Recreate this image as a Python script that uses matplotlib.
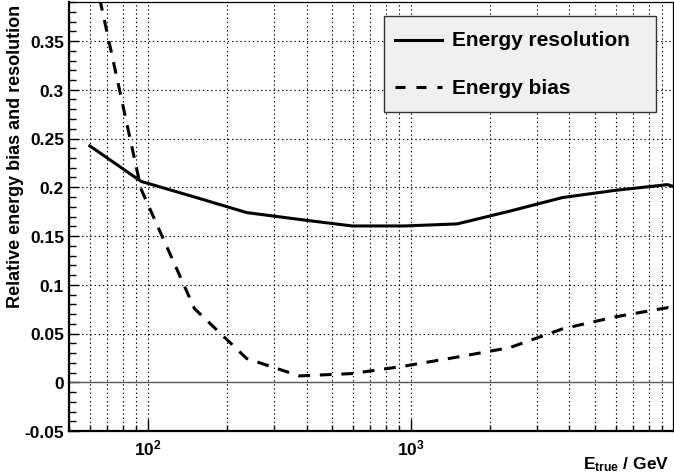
import math
import matplotlib
matplotlib.use("Agg")
import matplotlib.pyplot as plt
from matplotlib.lines import Line2D
from matplotlib.patches import Rectangle
from matplotlib.ticker import LogLocator, MultipleLocator, FuncFormatter, NullFormatter

plt.rcParams["font.family"] = ["Liberation Sans", "DejaVu Sans"]
plt.rcParams["font.weight"] = "bold"
plt.rcParams["mathtext.fontset"] = "custom"
plt.rcParams["mathtext.rm"] = "Liberation Sans:bold"
plt.rcParams["mathtext.bf"] = "Liberation Sans:bold"
plt.rcParams["mathtext.it"] = "Liberation Sans:bold"
plt.rcParams["lines.scale_dashes"] = False

# energy bin centres (GeV) and curves
energy = [60, 94, 150, 237, 376, 596, 944, 1496, 2371, 3758, 5957, 9441, 14962]
resolution = [0.2424, 0.206, 0.190, 0.174, 0.167, 0.1603, 0.1603, 0.1624,
              0.1755, 0.1894, 0.1968, 0.2027, 0.185]
bias = [0.44, 0.198, 0.0755, 0.0243, 0.0065, 0.0089, 0.0166, 0.0258,
        0.0355, 0.0547, 0.067, 0.0765, 0.060]

legend_labels = ["Energy resolution", "Energy bias"]

W, H = 674, 477
dash = (0, (8.5, 7.0))
legend_dash = (0, (7.2, 7.9))


def fig_xy(x, y):
    # pixel position (from top-left) -> figure fraction
    return x / W, 1 - y / H


fig = plt.figure(figsize=(W / 100, H / 100), dpi=100)
ax = fig.add_axes([69 / W, 1 - 432 / H, (673 - 69) / W, (432 - 3) / H])

ax.set_xscale("log")
ax.set_xlim(50, 9900)
ax.set_ylim(-0.05, 0.39)

ax.axhline(0, color="0.35", lw=1.0, zorder=1)

ax.plot(energy, resolution, color="black", lw=2.2, zorder=3)
ax.plot(energy, bias, color="black", lw=2.2, linestyle=dash, zorder=3)

# ticks
ax.xaxis.set_major_locator(LogLocator(base=10))
ax.xaxis.set_minor_locator(LogLocator(base=10, subs=range(2, 10)))
ax.xaxis.set_major_formatter(FuncFormatter(lambda v, _: r"$10^{%d}$" % round(math.log10(v))))
ax.xaxis.set_minor_formatter(NullFormatter())
ax.yaxis.set_major_locator(MultipleLocator(0.05))
ax.yaxis.set_minor_locator(MultipleLocator(0.01))
ax.yaxis.set_major_formatter(FuncFormatter(lambda v, _: "%g" % round(v, 3)))

ax.tick_params(axis="both", which="both", direction="in", top=False, right=False,
               width=1, labelsize=12.5)
ax.tick_params(axis="x", which="major", length=8.5, pad=5)
ax.tick_params(axis="x", which="minor", length=4.3)
ax.tick_params(axis="y", which="major", length=7, pad=3.6)
ax.tick_params(axis="y", which="minor", length=5)

ax.grid(True, which="both", axis="x", color="black", lw=0.8, linestyle=(0, (1, 2)))
ax.grid(True, which="major", axis="y", color="black", lw=0.8, linestyle=(0, (1, 2)))
ax.set_axisbelow(True)

for side in ["left", "bottom"]:
    ax.spines[side].set_linewidth(1.6)
for side in ["top", "right"]:
    ax.spines[side].set_linewidth(0.9)

ax.set_ylabel("Relative energy bias and resolution", fontsize=13, fontweight="bold", loc="top")
ax.yaxis.set_label_coords((24 - 69) / 604, 0.995)

fig.text(669 / W, 1 - 469 / H, r"$E_{true}$ / GeV", fontsize=12.5, fontweight="bold",
         ha="right", va="baseline")

# legend box
x0, y0 = fig_xy(384, 112.7)
box = Rectangle((x0, y0), (656 - 384) / W, (112.7 - 16.7) / H, transform=fig.transFigure,
                facecolor="#f0f0f0", edgecolor="#333333", lw=1.0, zorder=5)
fig.add_artist(box)
styles = ["-", legend_dash]
rows_y = [41, 88]
for label, style, yy in zip(legend_labels, styles, rows_y):
    xa, ya = fig_xy(395, yy)
    xb, _ = fig_xy(442, yy)
    fig.add_artist(Line2D([xa, xb], [ya, ya], transform=fig.transFigure, color="black",
                          lw=2.2, linestyle=style, zorder=6))
    tx, _ = fig_xy(452, yy)
    fig.text(tx, ya, label, fontsize=15, fontweight="bold", va="center", ha="left", zorder=6)

fig.savefig("out.png", dpi=100)
